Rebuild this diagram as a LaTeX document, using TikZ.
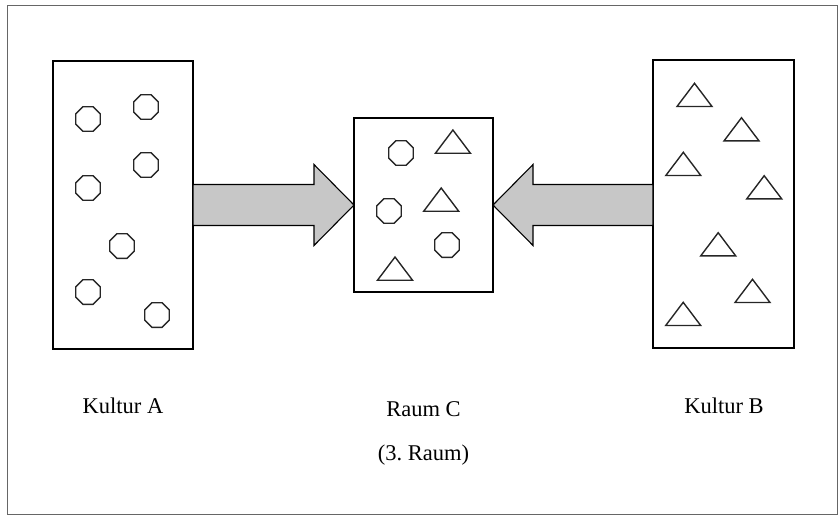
\documentclass[tikz,border=0pt]{standalone}
\usepackage{fontspec}
\setmainfont{Liberation Serif}
\usetikzlibrary{shapes.geometric,calc}
\tikzset{
  box/.style={draw=black, line width=1.3pt, inner sep=0pt, outer sep=0pt},
  octa/.style={draw=black!85, regular polygon, regular polygon sides=8, minimum size=13.3pt, inner sep=0pt, line width=0.7pt},
  tri/.pic={\draw[black!85, line width=0.7pt, line join=miter] (0,0) -- (17.5,23.2) -- (-17.5,23.2) -- cycle;},
  bigarrow/.style={draw=black, line width=0.55pt, fill=black!22, line join=miter},
  lbl/.style={anchor=base, inner sep=0pt, font=\fontsize{11.25}{13.5}\selectfont},
  frame/.style={draw=black!60, line width=0.5pt}
}
\begin{document}
\begin{tikzpicture}[x=0.5pt, y=-0.5pt]
\useasboundingbox (0,0) rectangle (839,516);
\draw[frame] (7,5.5) rectangle (837.5,514.5);

% boxes
\node[box, minimum width=70pt, minimum height=144pt] (A) at (123,205) {};
\node[box, minimum width=69.5pt, minimum height=87pt] (C) at (423.5,205) {};
\node[box, minimum width=70.5pt, minimum height=144pt] (B) at (723.5,204) {};

% arrows
\draw[bigarrow] (A.east |- C.west) ++(0,-20.5) -- ($(C.west)+(-40,-20.5)$) -- ($(C.west)+(-40,-40.5)$) -- (C.west)
  -- ($(C.west)+(-40,40.5)$) -- ($(C.west)+(-40,20.5)$) -- ($(A.east |- C.west)+(0,20.5)$) -- cycle;
\draw[bigarrow] (B.west |- C.east) ++(0,-20.5) -- ($(C.east)+(40,-20.5)$) -- ($(C.east)+(40,-40.5)$) -- (C.east)
  -- ($(C.east)+(40,40.5)$) -- ($(C.east)+(40,20.5)$) -- ($(B.west |- C.east)+(0,20.5)$) -- cycle;

% octagons in A
\node[octa] (a1) at (88,119) {};
\node[octa] (a2) at (146,107) {};
\node[octa] (a3) at (146,165) {};
\node[octa] (a4) at (88,188) {};
\node[octa] (a5) at (122,246) {};
\node[octa] (a6) at (88,292) {};
\node[octa] (a7) at (157,315) {};

% octagons in C
\node[octa] (c1) at (401,153) {};
\node[octa] (c2) at (389,211) {};
\node[octa] (c3) at (447,245) {};

% triangles in C
\pic at (452.9,130) {tri};
\pic at (441.2,188) {tri};
\pic at (395,257) {tri};

% triangles in B
\pic at (694.5,83.3) {tri};
\pic at (741.5,117.7) {tri};
\pic at (683.3,152.3) {tri};
\pic at (764.2,175.7) {tri};
\pic at (718.2,232.7) {tri};
\pic at (752.5,279.3) {tri};
\pic at (683.2,302.3) {tri};

% labels
\node[lbl] (la) at (123,413) {Kultur A};
\node[lbl] (lc) at (423.5,416.5) {Raum C};
\node[lbl] (lc2) at (423.5,460) {(3.\ Raum)};
\node[lbl] (lb) at (724,413) {Kultur B};
\end{tikzpicture}
\end{document}
